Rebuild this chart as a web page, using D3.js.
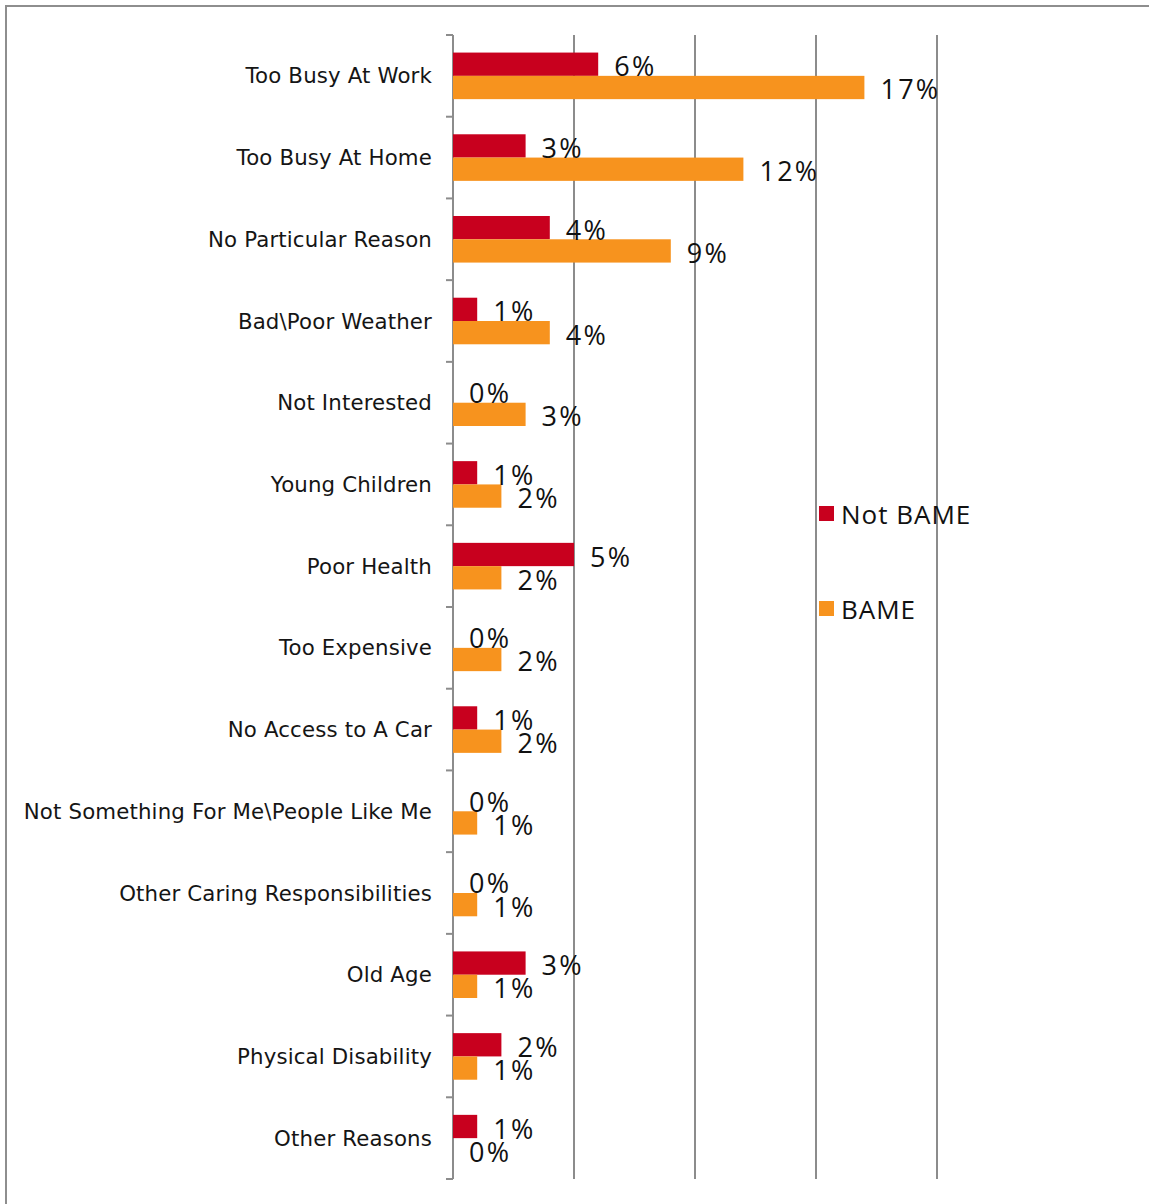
<!DOCTYPE html>
<html>
<head>
<meta charset="utf-8">
<script src="https://cdn.jsdelivr.net/npm/d3@7"></script>
<style>
  html, body { margin: 0; padding: 0; background: #fff; }
  svg { display: block; }
</style>
</head>
<body>
<svg id="chart" width="1149" height="1204"></svg>
<script>
// Reasons for not visiting, by group (percent of respondents)
const categories = [
  "Too Busy At Work",
  "Too Busy At Home",
  "No Particular Reason",
  "Bad\\Poor Weather",
  "Not Interested",
  "Young Children",
  "Poor Health",
  "Too Expensive",
  "No Access to A Car",
  "Not Something For Me\\People Like Me",
  "Other Caring Responsibilities",
  "Old Age",
  "Physical Disability",
  "Other Reasons"
];
const seriesNames = ["Not BAME", "BAME"];
const notBame = [6, 3, 4, 1, 0, 1, 5, 0, 1, 0, 0, 3, 2, 1];
const bame    = [17, 12, 9, 4, 3, 2, 2, 2, 2, 1, 1, 1, 1, 0];
const gridTicks = [5, 10, 15, 20];
const colors = ["#C8001E", "#F7931E"];

const rows = categories.map((c, i) => ({ category: c, values: [notBame[i], bame[i]] }));

const svg = d3.select("#chart");
const W = 1149, H = 1204;
const plot = { left: 453, right: 937, top: 35, bottom: 1179 };

// outer frame
svg.append("rect")
  .attr("x", 6).attr("y", 6)
  .attr("width", W + 20).attr("height", H + 20)
  .attr("fill", "none").attr("stroke", "#8e8e8e").attr("stroke-width", 2);

const x = d3.scaleLinear().domain([0, 20]).range([plot.left, plot.right]);
const y = d3.scaleBand().domain(categories).range([plot.top, plot.bottom])
  .paddingInner(0.43).paddingOuter(0.215);
const ySub = d3.scaleBand().domain(seriesNames).range([0, y.bandwidth()]);

// vertical gridlines
svg.append("g").selectAll("line").data(gridTicks).join("line")
  .attr("x1", d => x(d)).attr("x2", d => x(d))
  .attr("y1", plot.top).attr("y2", plot.bottom)
  .attr("stroke", "#8c8c8c").attr("stroke-width", 2);

// category axis with boundary ticks
const step = y.step();
const bounds = d3.range(categories.length + 1).map(i => plot.top + i * step);
const axisG = svg.append("g");
axisG.append("line")
  .attr("x1", plot.left).attr("x2", plot.left)
  .attr("y1", plot.top).attr("y2", plot.bottom)
  .attr("stroke", "#8c8c8c").attr("stroke-width", 2);
axisG.selectAll("line.tick").data(bounds).join("line")
  .attr("class", "tick")
  .attr("x1", plot.left - 7).attr("x2", plot.left)
  .attr("y1", d => d).attr("y2", d => d)
  .attr("stroke", "#8c8c8c").attr("stroke-width", 2);

axisG.selectAll("text").data(categories).join("text")
  .attr("x", plot.left - 21)
  .attr("y", d => y(d) + y.bandwidth() / 2)
  .attr("text-anchor", "end")
  .attr("dominant-baseline", "central")
  .attr("font-family", "'DejaVu Sans', Verdana, sans-serif")
  .attr("font-size", 21.3)
  .attr("letter-spacing", 0.15)
  .attr("fill", "#151515")
  .text(d => d);

// bars and value labels
const groups = svg.append("g").selectAll("g").data(rows).join("g")
  .attr("transform", d => `translate(0,${y(d.category)})`);

groups.selectAll("rect").data(d => d.values.map((v, i) => ({ v, s: seriesNames[i], i }))).join("rect")
  .attr("x", x(0))
  .attr("y", d => ySub(d.s))
  .attr("width", d => x(d.v) - x(0))
  .attr("height", ySub.bandwidth())
  .attr("fill", d => colors[d.i]);

groups.selectAll("text").data(d => d.values.map((v, i) => ({ v, s: seriesNames[i], i }))).join("text")
  .attr("x", d => x(d.v) + 16)
  .attr("y", d => ySub(d.s) + ySub.bandwidth() / 2 + 1.5)
  .attr("dominant-baseline", "central")
  .attr("font-family", "'Open Sans', sans-serif")
  .attr("font-size", 27)
  .attr("letter-spacing", 2.3)
  .attr("fill", "#111")
  .text(d => d.v + "%");

// legend
const legend = svg.append("g").attr("transform", "translate(819,506)");
const li = legend.selectAll("g").data(seriesNames).join("g")
  .attr("transform", (d, i) => `translate(0,${i * 95})`);
li.append("rect").attr("width", 15).attr("height", 15).attr("fill", (d, i) => colors[i]);
li.append("text")
  .attr("x", 22).attr("y", 7.5)
  .attr("dominant-baseline", "central")
  .attr("font-family", "'Open Sans', sans-serif")
  .attr("font-size", 26)
  .attr("letter-spacing", 1)
  .attr("fill", "#111")
  .text(d => d);
</script>
</body>
</html>
